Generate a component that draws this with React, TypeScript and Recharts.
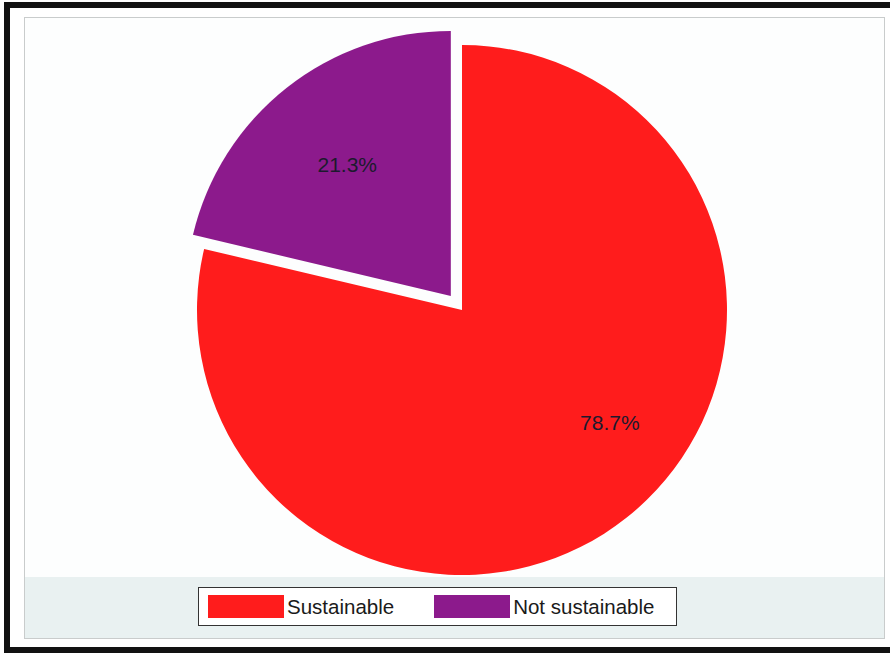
import React from 'react';
import { PieChart, Pie, Cell, Sector, Legend } from 'recharts';

// 数据
const categories = ['Sustainable', 'Not sustainable'];
const shares = [78.7, 21.3];
const sliceColors = ['#ff1c1c', '#8c1a8c'];
const explodedIndex = 1;

const FONT = '"Liberation Sans", Arial, sans-serif';
const RAD = Math.PI / 180;

const chartData = categories.map((name, i) => ({ name, value: shares[i] }));

// exploded slice: shift the sector along its mid angle
function renderShape(props: any) {
    const offset = props.index === explodedIndex ? 18 : 0;
    const dx = offset * Math.cos(-props.midAngle * RAD);
    const dy = offset * Math.sin(-props.midAngle * RAD);
    return <Sector {...props} cx={props.cx + dx} cy={props.cy + dy} stroke="none" />;
}

function renderLabel(props: any) {
    const { cx, cy, midAngle, outerRadius, index, value } = props;
    const offset = index === explodedIndex ? 18 : 0;
    const angle = midAngle + (index === 0 ? 14.5 : 0);
    const r = outerRadius * (index === 0 ? 0.7 : 0.63) + offset;
    const x = cx + r * Math.cos(-angle * RAD);
    const y = cy + r * Math.sin(-angle * RAD);
    return (
        <text x={x} y={y} textAnchor="middle" dominantBaseline="central"
            fill="#1c1a2e" style={{ fontSize: 21, fontFamily: FONT }}>
            {`${Number(value).toFixed(1)}%`}
        </text>
    );
}

function LegendBox() {
    return (
        <div style={{
            width: 477, height: 37, border: '1px solid #333', background: '#fff',
            display: 'flex', alignItems: 'center', boxSizing: 'content-box', fontFamily: FONT
        }}>
            {categories.map((c, i) => (
                <div key={c} style={{ display: 'flex', alignItems: 'center', marginLeft: i === 0 ? 9 : 40 }}>
                    <div style={{ width: 76, height: 23, background: sliceColors[i] }} />
                    <span style={{ fontSize: 20.5, color: '#1a1a1a', marginLeft: 3 }}>{c}</span>
                </div>
            ))}
        </div>
    );
}

export default function App() {
    return (
        <div style={{ position: 'absolute', left: 0, top: 0, width: 890, height: 655, overflow: 'hidden', background: '#fff' }}>
            {/* outer frame */}
            <div style={{ position: 'absolute', left: 4, top: 2, width: 900, height: 651, border: '6px solid #111', boxSizing: 'border-box' }} />
            {/* plot panel */}
            <div style={{ position: 'absolute', left: 24, top: 17, width: 861, height: 622, border: '1px solid #c9cccc', background: '#fdfefe', boxSizing: 'border-box' }} />
            <div style={{ position: 'absolute', left: 25, top: 577, width: 859, height: 61, background: '#e9f1f1' }} />
            <div style={{ position: 'absolute', left: 0, top: 0 }}>
                <PieChart width={890} height={655}>
                    <Pie
                        data={chartData}
                        dataKey="value"
                        nameKey="name"
                        cx={457}
                        cy={305}
                        outerRadius={265}
                        startAngle={90}
                        endAngle={-270}
                        stroke="none"
                        labelLine={false}
                        label={renderLabel}
                        shape={renderShape}
                        isAnimationActive={false}
                    >
                        {chartData.map((d, i) => (
                            <Cell key={d.name} fill={sliceColors[i]} />
                        ))}
                    </Pie>
                    <Legend
                        content={() => <LegendBox />}
                        wrapperStyle={{ left: 198, top: 587, bottom: 'auto', width: 479 }}
                    />
                </PieChart>
            </div>
        </div>
    );
}
